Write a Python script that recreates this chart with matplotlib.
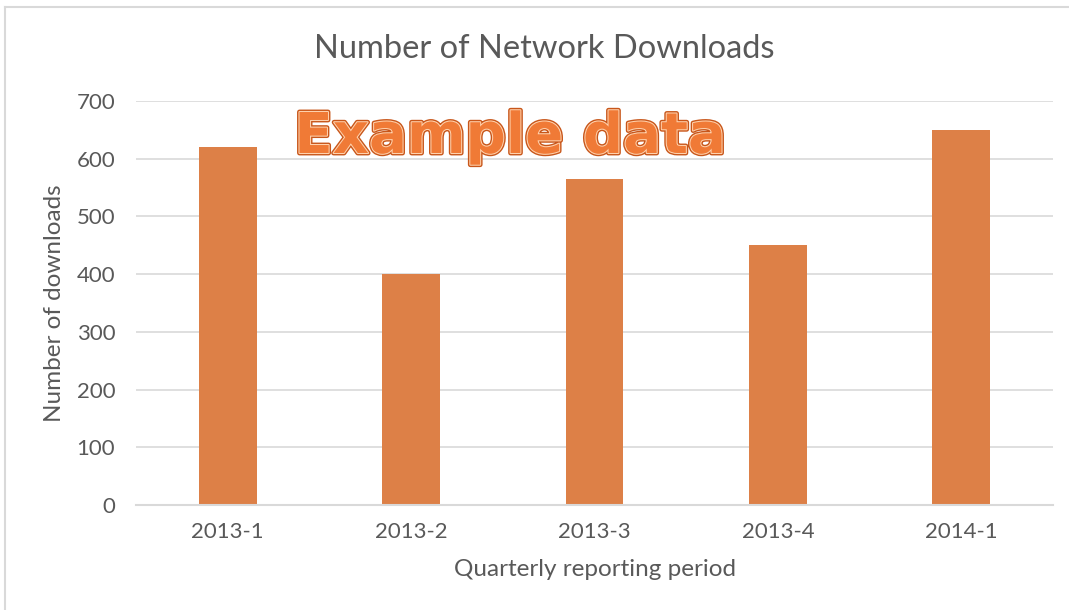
import matplotlib
matplotlib.use("Agg")
import matplotlib.pyplot as plt
import matplotlib.patheffects as pe
from matplotlib.lines import Line2D

categories = ["2013-1", "2013-2", "2013-3", "2013-4", "2014-1"]
downloads = [620, 400, 565, 450, 650]
yticks = [0, 100, 200, 300, 400, 500, 600, 700]

W, H = 1069, 610
fig = plt.figure(figsize=(W / 100, H / 100), dpi=100)
fig.patch.set_facecolor("white")

# outer border (left and top visible)
fig.add_artist(Line2D([5 / W, 5 / W], [0, 1 - 7 / H], color="#D9D9D9", lw=1.5, transform=fig.transFigure))
fig.add_artist(Line2D([5 / W, 1], [1 - 7 / H, 1 - 7 / H], color="#D9D9D9", lw=1.5, transform=fig.transFigure))

left, right = 136 / W, 1053 / W
bottom, top = 1 - 505 / H, 1 - 101 / H
ax = fig.add_axes([left, bottom, right - left, top - bottom])

font = "Lato"
txt = "#595959"
x = list(range(len(categories)))
ax.bar(x, downloads, width=0.315, color="#DD8047", zorder=3)
ax.set_xlim(-0.5, len(categories) - 0.5)
ax.set_ylim(0, 700)
ax.set_yticks(yticks)
ax.set_yticklabels([str(v) for v in yticks], fontfamily=font, fontsize=16, color=txt)
ax.set_xticks(x)
ax.set_xticklabels(categories, fontfamily=font, fontsize=16, color=txt)
ax.tick_params(axis="both", length=0)
ax.tick_params(axis="y", pad=15)
ax.tick_params(axis="x", pad=12)
ax.grid(axis="y", color="#D9D9D9", lw=1.2, zorder=0)
for s in ["top", "right", "left"]:
    ax.spines[s].set_visible(False)
ax.spines["bottom"].set_color("#D9D9D9")
ax.spines["bottom"].set_linewidth(1.5)
ax.spines["bottom"].set_zorder(4)

ax.set_xlabel("Quarterly reporting period", fontfamily=font, fontsize=17.5, color=txt)
ax.set_ylabel("Number of downloads", fontfamily=font, fontsize=17.5, color=txt)
ax.xaxis.set_label_coords(0.5, -(569 - 505) / (505 - 101))
ax.xaxis.label.set_va("center")
ax.yaxis.set_label_coords(-(136 - 55) / (1053 - 136), 0.5)
ax.yaxis.label.set_va("center")

fig.text(544 / W, 1 - 49 / H, "Number of Network Downloads", fontfamily=font, fontsize=23.5,
         color=txt, ha="center", va="center")

t = fig.text(510 / W, 1 - 153 / H, "Example data", fontfamily="DejaVu Sans", fontweight="bold",
             fontsize=40.5, color="#F07A36", ha="center", va="baseline", zorder=5)
t.set_path_effects([pe.Stroke(linewidth=3.5, foreground="#C8561A"),
                    pe.Stroke(linewidth=1.5, foreground="#FFD2AE"),
                    pe.Normal()])

fig.savefig("out.png", dpi=100)
